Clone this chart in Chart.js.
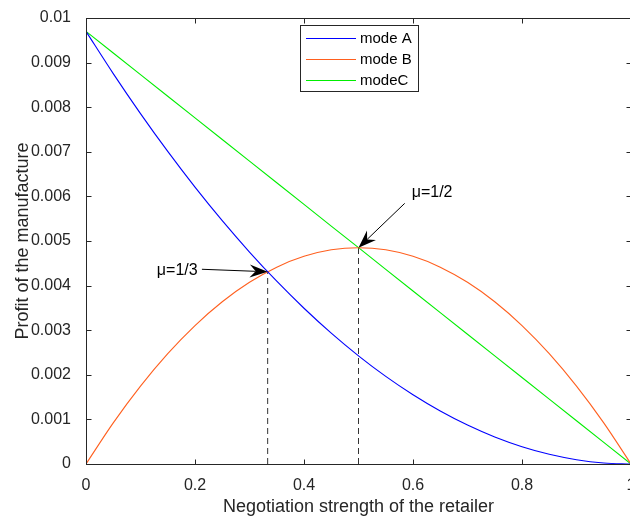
<!DOCTYPE html>
<html>
<head>
<meta charset="utf-8">
<script src="https://cdn.jsdelivr.net/npm/chart.js@4.4.0/dist/chart.umd.min.js"></script>
<style>
html, body { margin: 0; padding: 0; background: #fff; overflow: hidden; }
#wrap { width: 630px; height: 519px; overflow: hidden; }
</style>
</head>
<body>
<div id="wrap"><canvas id="c" width="650" height="519"></canvas></div>
<script>
// negotiation strength of the retailer
var xs = [0, 0.05, 0.1, 0.15, 0.2, 0.25, 0.3, 0.35, 0.4, 0.45, 0.5,
	0.55, 0.6, 0.65, 0.7, 0.75, 0.8, 0.85, 0.9, 0.95, 1];

// profit of the manufacture
var modeA = [0.0097, 0.008754, 0.007857, 0.007008, 0.006208, 0.005456, 0.004753, 0.004098, 0.003492, 0.002934, 0.002425,
	0.001964, 0.001552, 0.001188, 0.000873, 0.000606, 0.000388, 0.000218, 0.000097, 0.000024, 0];
var modeB = [0, 0.000922, 0.001746, 0.002474, 0.003104, 0.003638, 0.004074, 0.004414, 0.004656, 0.004802, 0.00485,
	0.004802, 0.004656, 0.004414, 0.004074, 0.003638, 0.003104, 0.002474, 0.001746, 0.000922, 0];
var modeC = [0.0097, 0.009215, 0.00873, 0.008245, 0.00776, 0.007275, 0.00679, 0.006305, 0.00582, 0.005335, 0.00485,
	0.004365, 0.00388, 0.003395, 0.00291, 0.002425, 0.00194, 0.001455, 0.00097, 0.000485, 0];

var xTicks = [0, 0.2, 0.4, 0.6, 0.8, 1];
var xTickLabels = ['0', '0.2', '0.4', '0.6', '0.8', '1'];
var yTicks = [0, 0.001, 0.002, 0.003, 0.004, 0.005, 0.006, 0.007, 0.008, 0.009, 0.01];
var yTickLabels = ['0', '0.001', '0.002', '0.003', '0.004', '0.005', '0.006', '0.007', '0.008', '0.009', '0.01'];

// intersections marked in the figure
var mu13 = [1 / 3, 0.00431];
var mu12 = [0.5, 0.00485];

function pts(ys) {
	return xs.map(function (x, i) { return {x: x, y: ys[i]} })
}

var INK = '#262626';
var FONT = "'Liberation Sans', Arial, sans-serif";

/*
* MATLAB style box, inward ticks, legend and arrows
*/
var matlabBits = {
	id: 'matlabBits',
	afterDatasetsDraw: function (chart) {
		var ctx = chart.ctx, a = chart.chartArea;
		var sx = chart.scales.x, sy = chart.scales.y;
		var L = Math.round(a.left) + 0.5, R = Math.round(a.right) + 0.5;
		var T = Math.round(a.top) + 0.5, B = Math.round(a.bottom) + 0.5;
		ctx.save();
		ctx.strokeStyle = INK;
		ctx.lineWidth = 1;
		ctx.strokeRect(L, T, R - L, B - T);
		ctx.beginPath();
		xTicks.forEach(function (v) {
			var px = Math.round(sx.getPixelForValue(v)) + 0.5;
			ctx.moveTo(px, B); ctx.lineTo(px, B - 5);
			ctx.moveTo(px, T); ctx.lineTo(px, T + 5);
		});
		yTicks.forEach(function (v) {
			var py = Math.round(sy.getPixelForValue(v)) + 0.5;
			ctx.moveTo(L, py); ctx.lineTo(L + 5, py);
			ctx.moveTo(R, py); ctx.lineTo(R - 5, py);
		});
		ctx.stroke();

		// arrows
		ctx.strokeStyle = '#000';
		ctx.fillStyle = '#000';
		function arrow(x0, y0, x1, y1) {
			var p0x = sx.getPixelForValue(x0), p0y = sy.getPixelForValue(y0);
			var p1x = sx.getPixelForValue(x1), p1y = sy.getPixelForValue(y1);
			var ang = Math.atan2(p1y - p0y, p1x - p0x);
			var c = Math.cos(ang), s = Math.sin(ang);
			var len = 18, w = 6.5, notch = 12;
			ctx.beginPath();
			ctx.moveTo(p0x, p0y);
			ctx.lineTo(p1x - c * notch, p1y - s * notch);
			ctx.stroke();
			ctx.beginPath();
			ctx.moveTo(p1x, p1y);
			ctx.lineTo(p1x - c * len - s * w, p1y - s * len + c * w);
			ctx.lineTo(p1x - c * notch, p1y - s * notch);
			ctx.lineTo(p1x - c * len + s * w, p1y - s * len - c * w);
			ctx.closePath();
			ctx.fill();
		}
		arrow(0.2127, 0.004366, mu13[0], mu13[1]);
		arrow(0.5848, 0.005844, mu12[0], mu12[1]);

		ctx.font = '16px ' + FONT;
		ctx.textBaseline = 'middle';
		ctx.textAlign = 'left';
		ctx.fillText('\u03bc=1/3', sx.getPixelForValue(0.130), sy.getPixelForValue(0.004344));
		ctx.fillText('\u03bc=1/2', sx.getPixelForValue(0.5976), sy.getPixelForValue(0.00609));

		// legend
		var lx = a.left + 214, ly = a.top + 7;
		ctx.fillStyle = '#fff';
		ctx.fillRect(lx, ly, 118, 66);
		ctx.strokeStyle = INK;
		ctx.strokeRect(Math.round(lx) + 0.5, Math.round(ly) + 0.5, 118, 66);
		ctx.font = '15px ' + FONT;
		for (var i = 0; i < 3; i++) {
			var ds = chart.data.datasets[i];
			var yy = Math.round(ly + 13 + i * 21) + 0.5;
			ctx.strokeStyle = ds.borderColor;
			ctx.beginPath();
			ctx.moveTo(lx + 6, yy); ctx.lineTo(lx + 56, yy);
			ctx.stroke();
			ctx.fillStyle = '#000';
			ctx.fillText(ds.label, lx + 60, yy);
		}
		ctx.restore();
	}
};

var dashStyle = {borderColor: '#333', borderWidth: 1, borderDash: [6, 4], pointRadius: 0, fill: false};

var chart = new Chart(document.getElementById('c'), {
	type: 'line',
	data: {
		datasets: [
			{label: 'mode A', data: pts(modeA), borderColor: '#0000FF', cubicInterpolationMode: 'monotone'},
			{label: 'mode B', data: pts(modeB), borderColor: 'rgb(255,95,30)', cubicInterpolationMode: 'monotone'},
			{label: 'modeC', data: pts(modeC), borderColor: '#00EE00'},
			Object.assign({label: 'drop 1/3', data: [{x: mu13[0], y: 0}, {x: mu13[0], y: mu13[1]}]}, dashStyle),
			Object.assign({label: 'drop 1/2', data: [{x: mu12[0], y: 0}, {x: mu12[0], y: mu12[1]}]}, dashStyle)
		]
	},
	options: {
		responsive: false,
		animation: false,
		devicePixelRatio: 1,
		layout: {padding: {top: 18, right: 19, left: 0, bottom: 0}},
		elements: {
			line: {borderWidth: 1.1, tension: 0},
			point: {radius: 0}
		},
		plugins: {legend: {display: false}, tooltip: {enabled: false}},
		scales: {
			x: {
				type: 'linear', min: 0, max: 1,
				afterBuildTicks: function (s) { s.ticks = xTicks.map(function (v) { return {value: v} }) },
				afterFit: function (s) { s.height = 55 },
				grid: {display: false},
				border: {display: false},
				ticks: {
					padding: 4, color: INK, font: {family: FONT, size: 16}, maxRotation: 0,
					callback: function (v, i) { return xTickLabels[i] }
				},
				title: {display: true, text: 'Negotiation strength of the retailer', color: INK,
					font: {family: FONT, size: 18}, padding: {top: 0, bottom: 1}}
			},
			y: {
				min: 0, max: 0.01,
				afterBuildTicks: function (s) { s.ticks = yTicks.map(function (v) { return {value: v} }) },
				afterFit: function (s) { s.width = 86 },
				grid: {display: false},
				border: {display: false},
				ticks: {
					padding: 7, color: INK, font: {family: FONT, size: 16},
					callback: function (v, i) { return yTickLabels[i] }
				},
				title: {display: true, text: 'Profit of the manufacture', color: INK,
					font: {family: FONT, size: 18}, padding: {top: 12, bottom: 0}}
			}
		}
	},
	plugins: [matlabBits]
})
</script>
</body>
</html>
